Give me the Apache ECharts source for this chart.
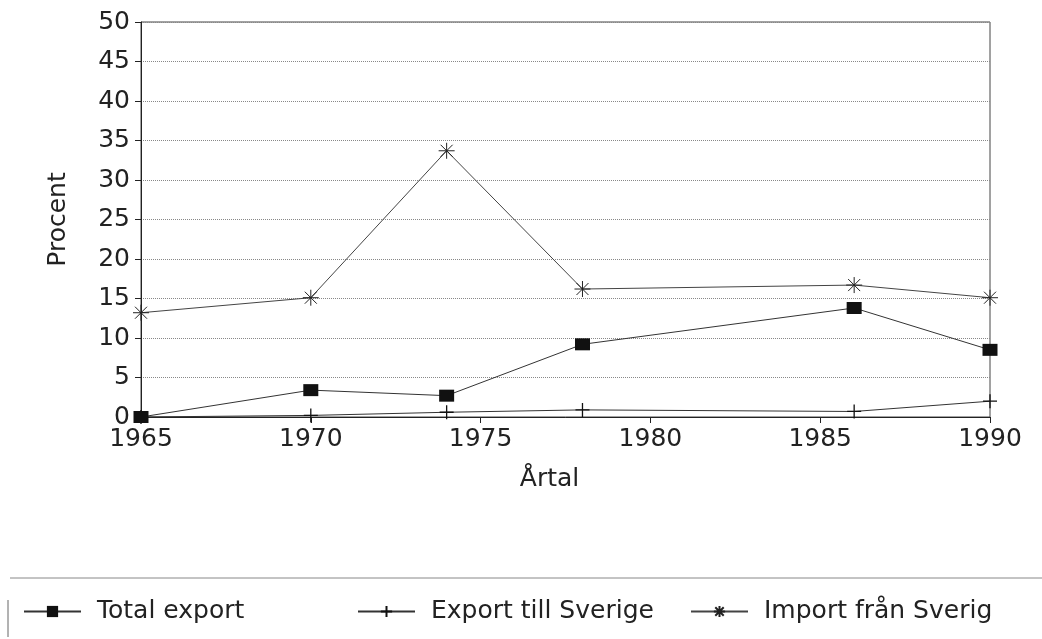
<!DOCTYPE html>
<html>
<head>
<meta charset="utf-8">
<script src="https://cdn.jsdelivr.net/npm/echarts@6/dist/echarts.min.js"></script>
<style>
  html, body { margin: 0; padding: 0; background: #fff; }
  #chart { width: 1042px; height: 639px; }
</style>
</head>
<body>
<div id="chart"></div>
<script>
// years on the x axis (Årtal)
const years = [1965, 1970, 1974, 1978, 1986, 1990]
// percent values
const totalExport = [0, 3.4, 2.7, 9.2, 13.8, 8.5]
const exportSverige = [0, 0.2, 0.6, 0.9, 0.7, 2.0]
const importSverige = [13.2, 15.1, 33.7, 16.2, 16.7, 15.1]
const seriesNames = ['Total export', 'Export till Sverige', 'Import från Sverig']

const FONT = 'DejaVu Sans'
const INK = '#222'

const pairs = (vals) => years.map((y, i) => [y, vals[i]])

// stroked symbols (plus and asterisk)
const plusPath = 'path://M0,7 L14,7 M7,0 L7,14'
const starPath = 'path://M0,8 L16,8 M8,0 L8,16 M2,2 L14,14 M14,2 L2,14'

const myChart = echarts.init(document.getElementById('chart'))

const legendBase = {
  orient: 'horizontal',
  top: 594,
  itemWidth: 57,
  itemHeight: 14,
  selectedMode: false,
  textStyle: { fontFamily: FONT, fontSize: 25, color: INK, padding: [0, 0, 0, 11] }
}

const options = {
  animation: false,
  backgroundColor: '#fff',
  grid: {
    left: 141, right: 52, top: 22, bottom: 222,
    show: true, borderColor: '#444', borderWidth: 1
  },
  xAxis: {
    type: 'value',
    min: 1965, max: 1990, interval: 5,
    name: 'Årtal',
    nameLocation: 'middle',
    nameGap: 50,
    nameTextStyle: { fontFamily: FONT, fontSize: 25, color: INK, padding: [0, 32, 0, 0] },
    axisLine: { show: true, lineStyle: { color: '#222', width: 1 } },
    axisTick: { show: true, length: 6, lineStyle: { color: '#222' } },
    axisLabel: {
      margin: 10, fontFamily: FONT, fontSize: 25, color: INK,
      formatter: (v) => String(v)
    },
    splitLine: { show: false }
  },
  yAxis: {
    type: 'value',
    min: 0, max: 50, interval: 5,
    name: 'Procent',
    nameLocation: 'middle',
    nameGap: 70,
    nameTextStyle: { fontFamily: FONT, fontSize: 25, color: INK },
    axisLine: { show: true, lineStyle: { color: '#222', width: 1 } },
    axisTick: { show: true, length: 6, lineStyle: { color: '#222' } },
    axisLabel: { margin: 11, fontFamily: FONT, fontSize: 25, color: INK },
    splitLine: { show: true, lineStyle: { color: '#888', type: 'dotted', width: 1 } }
  },
  legend: [
    Object.assign({}, legendBase, { left: 18, data: [seriesNames[0]] }),
    Object.assign({}, legendBase, { left: 352, data: [seriesNames[1]] }),
    Object.assign({}, legendBase, { left: 685, data: [seriesNames[2]] })
  ],
  graphic: [
    { type: 'line', shape: { x1: 10, y1: 578, x2: 1042, y2: 578 }, style: { stroke: '#888', lineWidth: 1 } },
    { type: 'line', shape: { x1: 8, y1: 600, x2: 8, y2: 637 }, style: { stroke: '#666', lineWidth: 1 } }
  ],
  series: [
    {
      name: seriesNames[0],
      type: 'line',
      data: pairs(totalExport),
      symbol: 'rect',
      symbolSize: [15, 12],
      lineStyle: { color: '#333', width: 1 },
      itemStyle: { color: '#111' },
      z: 5
    },
    {
      name: seriesNames[1],
      type: 'line',
      data: pairs(exportSverige),
      symbol: plusPath,
      symbolSize: [14, 14],
      lineStyle: { color: '#333', width: 1 },
      itemStyle: { color: 'rgba(0,0,0,0)', borderColor: '#111', borderWidth: 1.3 }
    },
    {
      name: seriesNames[2],
      type: 'line',
      data: pairs(importSverige),
      symbol: starPath,
      symbolSize: [16, 16],
      lineStyle: { color: '#444', width: 1 },
      itemStyle: { color: 'rgba(0,0,0,0)', borderColor: '#222', borderWidth: 1 }
    }
  ]
}

myChart.setOption(options)
</script>
</body>
</html>
